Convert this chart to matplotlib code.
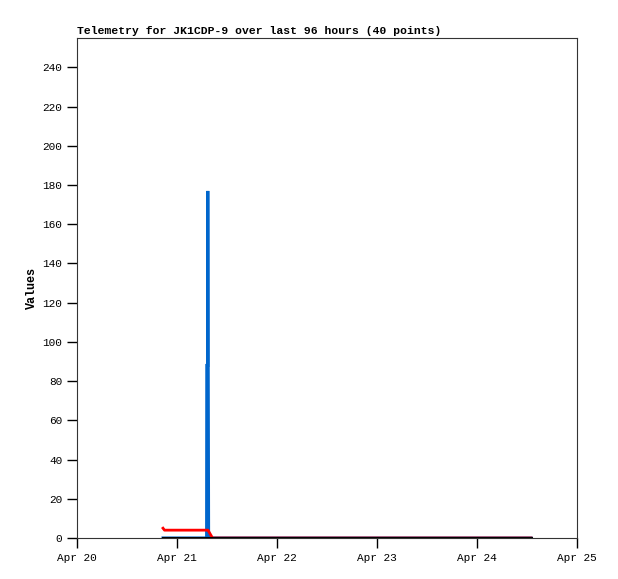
import numpy as np
import matplotlib
matplotlib.use("Agg")
import matplotlib.pyplot as plt
import matplotlib.dates as mdates
from datetime import datetime, timedelta

start = datetime(2024, 4, 20)

# telemetry channels, offsets in days from Apr 20
black_days = [0.86, 1.30, 1.36, 2.0, 3.0, 4.0, 4.54]
black_vals = [0, 0, 0, 0, 0, 0, 0]

red_days = [0.86, 0.875, 1.31, 1.355, 2.0, 3.0, 4.54]
red_vals = [5, 4, 4, 0, 0, 0, 0]

blue_days = [0.86, 1.296, 1.298, 1.306, 1.308, 1.316, 4.54]
blue_vals = [0, 0, 88, 88, 177, 0, 0]

def to_dates(days):
    return [start + timedelta(days=d) for d in days]

plt.rcParams['font.family'] = ['Liberation Mono', 'DejaVu Sans Mono']

fig = plt.figure(figsize=(6.18, 5.79), dpi=100)
ax = fig.add_axes([77/618, 1 - 538/579, 500/618, 500/579])

ax.plot(to_dates(blue_days), blue_vals, color="#0066cc", lw=2.2, solid_joinstyle="miter")
ax.plot(to_dates(red_days), red_vals, color="#ff0000", lw=2.0)
ax.plot(to_dates(black_days), black_vals, color="black", lw=2.2)

ax.set_xlim(start, start + timedelta(days=5))
ax.set_ylim(0, 255)
ax.set_yticks(np.arange(0, 241, 20))
ax.xaxis.set_major_locator(mdates.DayLocator())
ax.xaxis.set_major_formatter(mdates.DateFormatter("%b %d"))

ax.tick_params(direction="out", length=7, width=1, labelsize=8, colors="black")
for s in ax.spines.values():
    s.set_color("#333333")
    s.set_linewidth(0.8)

ax.set_ylabel("Values", fontsize=8.5, fontweight="bold", labelpad=3)
ax.set_title("Telemetry for JK1CDP-9 over last 96 hours (40 points)",
             fontsize=8.2, fontweight="bold", loc="left", pad=3)

plt.savefig("out.png", dpi=100)
